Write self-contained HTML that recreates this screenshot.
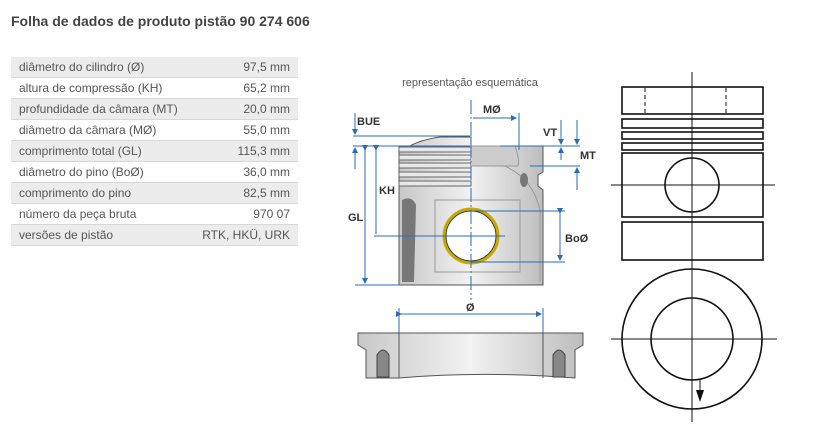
<!DOCTYPE html>
<html><head><meta charset="utf-8"><style>
body{margin:0;width:817px;height:437px;background:#fff;font-family:"Liberation Sans",Arial,sans-serif;position:relative;overflow:hidden}
h1{position:absolute;left:11px;top:13px;margin:0;font-size:14px;font-weight:bold;color:#444}
table{position:absolute;left:11px;top:57px;width:287px;border-collapse:collapse;font-size:12px;color:#555}
td{height:20px;padding:0 8px;border-bottom:1px solid #d8d8d8;line-height:20px}
td.v{text-align:right}
tr:nth-child(odd){background:#ececec}
svg{position:absolute;left:0;top:0}
</style></head><body>
<h1>Folha de dados de produto pistão 90 274 606</h1>
<table>
<tr><td>diâmetro do cilindro (Ø)</td><td class="v">97,5 mm</td></tr>
<tr><td>altura de compressão (KH)</td><td class="v">65,2 mm</td></tr>
<tr><td>profundidade da câmara (MT)</td><td class="v">20,0 mm</td></tr>
<tr><td>diâmetro da câmara (MØ)</td><td class="v">55,0 mm</td></tr>
<tr><td>comprimento total (GL)</td><td class="v">115,3 mm</td></tr>
<tr><td>diâmetro do pino (BoØ)</td><td class="v">36,0 mm</td></tr>
<tr><td>comprimento do pino</td><td class="v">82,5 mm</td></tr>
<tr><td>número da peça bruta</td><td class="v">970 07</td></tr>
<tr><td>versões de pistão</td><td class="v">RTK, HKÜ, URK</td></tr>
</table>
<svg width="817" height="437" viewBox="0 0 817 437">
<defs>
<linearGradient id="g" x1="0" x2="1"><stop offset="0" stop-color="#c8c8c8"/><stop offset=".5" stop-color="#f2f2f2"/><stop offset="1" stop-color="#bdbdbd"/></linearGradient>
<marker id="a" markerWidth="6" markerHeight="6" refX="5" refY="3" orient="auto"><path d="M0,0L6,3L0,6z" fill="#2a6db5"/></marker>
</defs>
<text x="470" y="86" font-size="11" fill="#555" text-anchor="middle">representação esquemática</text>
<!-- piston -->
<path d="M399,150 L399,285 L543,285 L543,190 L538,186 L538,175 L543,172 L543,146 L471,146 L471,137 L440,137 Q420,140 410,146 L399,146 Z" fill="url(#g)" stroke="#555"/>
<g stroke="#666" fill="#e8e8e8">
<rect x="399" y="147" width="72" height="5"/><rect x="399" y="155" width="72" height="5"/><rect x="399" y="163" width="72" height="5"/>
<rect x="399" y="172" width="72" height="5"/><rect x="399" y="181" width="72" height="5"/>
</g>
<path d="M402,200 Q412,195 416,205 L414,282 L402,282 Z" fill="#777"/>
<path d="M435,200 L520,200 L520,272 L435,272 Z" fill="none" stroke="#999"/>
<path d="M475,158 Q530,165 540,210 L540,282" fill="none" stroke="#999"/>
<ellipse cx="524" cy="180" rx="4" ry="7" fill="#777"/>
<path d="M471,146 L515,146 Q520,160 518,166 L471,166" fill="#ccc" stroke="#999"/>
<circle cx="471" cy="236" r="27" fill="#fff" stroke="#c9a800" stroke-width="3"/>
<circle cx="471" cy="236" r="25" fill="none" stroke="#333" stroke-width="1"/>
<!-- dims -->
<g stroke="#2a6db5" stroke-width="1" fill="none">
<line x1="471" y1="100" x2="471" y2="300" stroke-dasharray="14,3,2,3"/>
<line x1="355" y1="113" x2="355" y2="134" marker-end="url(#a)"/><line x1="355" y1="169" x2="355" y2="148" marker-end="url(#a)"/>
<line x1="353" y1="136" x2="470" y2="136"/><line x1="353" y1="146" x2="470" y2="146"/>
<line x1="365" y1="150" x2="365" y2="283" marker-start="url(#a)" marker-end="url(#a)"/>
<line x1="355" y1="285" x2="400" y2="285"/>
<line x1="376" y1="150" x2="376" y2="234" marker-start="url(#a)"/>
<line x1="374" y1="236" x2="505" y2="236"/>
<line x1="471" y1="211" x2="565" y2="211"/><line x1="471" y1="262" x2="565" y2="262"/>
<line x1="560" y1="213" x2="560" y2="260" marker-start="url(#a)" marker-end="url(#a)"/>
<line x1="473" y1="118" x2="516" y2="118" marker-end="url(#a)"/>
<line x1="519" y1="113" x2="519" y2="150"/>
<line x1="500" y1="146" x2="580" y2="146"/><line x1="530" y1="166" x2="580" y2="166"/>
<line x1="561" y1="120" x2="561" y2="144" marker-end="url(#a)"/><line x1="561" y1="160" x2="561" y2="148" marker-end="url(#a)"/>
<line x1="577" y1="120" x2="577" y2="144" marker-end="url(#a)"/><line x1="577" y1="190" x2="577" y2="168" marker-end="url(#a)"/>
<line x1="401" y1="314" x2="541" y2="314" marker-start="url(#a)" marker-end="url(#a)"/>
<line x1="399" y1="308" x2="399" y2="333"/><line x1="543" y1="308" x2="543" y2="333"/>
</g>
<g font-size="11" font-weight="bold" fill="#333">
<text x="357" y="125">BUE</text><text x="348" y="221">GL</text><text x="379" y="194">KH</text>
<text x="565" y="242">BoØ</text><text x="483" y="113">MØ</text><text x="543" y="136">VT</text>
<text x="580" y="159">MT</text><text x="466" y="311">Ø</text>
</g>
<!-- bottom part -->
<path d="M358,333 L583,333 L583,345 L575,350 L575,378 L545,376 Q470,372 399,378 L366,378 L366,350 L358,345 Z" fill="url(#g)" stroke="#555"/>
<line x1="399" y1="333" x2="399" y2="378" stroke="#555"/><line x1="543" y1="333" x2="543" y2="378" stroke="#555"/>
<path d="M377,377 L377,355 Q383,345 389,355 L389,377 Z" fill="#888" stroke="#444"/>
<path d="M553,377 L553,355 Q559,345 565,355 L565,377 Z" fill="#888" stroke="#444"/>
<!-- right drawing -->
<g stroke="#111" stroke-width="1.6" fill="none">
<rect x="622" y="87" width="141" height="27"/>
<line x1="645" y1="88" x2="645" y2="114" stroke-dasharray="4,3" stroke-width="1"/>
<line x1="726" y1="88" x2="726" y2="114" stroke-dasharray="4,3" stroke-width="1"/>
<rect x="622" y="119" width="141" height="9"/><rect x="622" y="132" width="141" height="7"/><rect x="622" y="143" width="141" height="7"/>
<rect x="622" y="153" width="141" height="64"/>
<circle cx="692" cy="185" r="27"/>
<rect x="622" y="222" width="141" height="38"/>
<circle cx="692" cy="339" r="70"/><circle cx="692" cy="339" r="41"/>
<line x1="692" y1="72" x2="692" y2="422" stroke-width="1"/>
<line x1="611" y1="185" x2="775" y2="185" stroke-width="1"/>
<line x1="611" y1="339" x2="777" y2="339" stroke-width="1"/>
<line x1="700" y1="380" x2="700" y2="392" stroke-width="1"/>
</g>
<path d="M696,390 L704,390 L700,402 Z" fill="#111"/>
</svg>
</body></html>
